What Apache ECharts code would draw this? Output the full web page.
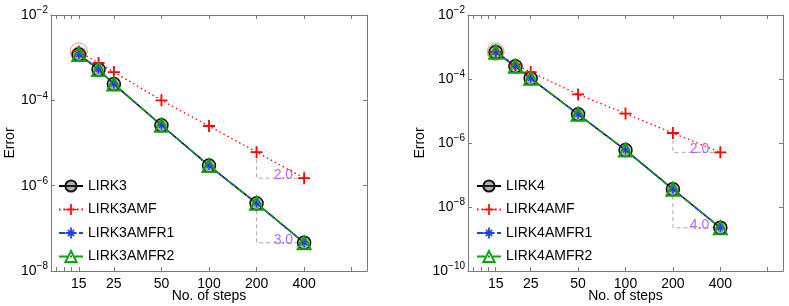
<!DOCTYPE html>
<html>
<head>
<meta charset="utf-8">
<script src="https://cdn.jsdelivr.net/npm/echarts@6/dist/echarts.min.js"></script>
<style>
html,body{margin:0;padding:0;background:#fff;}
#c{width:789px;height:306px;}
</style>
</head>
<body>
<div id="c"></div>
<script>
// ---- data ----
const steps = [15, 20, 25, 50, 100, 200, 400];
const xTickLabels = [15, 25, 50, 100, 200, 400];
const xTickMarks = [10.8, 12.1, 13.5, 15, 25, 50, 100, 200, 400, 800];

const namesL = ['LIRK3', 'LIRK3AMF', 'LIRK3AMFR1', 'LIRK3AMFR2'];
const lirk3      = [1.19e-3, 5.3e-4, 2.4e-4, 2.6e-5, 2.95e-6, 3.85e-7, 4.6e-8];
const lirk3amf   = [1.4e-3, 7.5e-4, 4.6e-4, 1.0e-4, 2.5e-5, 6.1e-6, 1.5e-6];
const lirk3amfr1 = [1.19e-3, 5.3e-4, 2.4e-4, 2.6e-5, 2.95e-6, 3.85e-7, 4.6e-8];
const lirk3amfr2 = [1.19e-3, 5.3e-4, 2.4e-4, 2.6e-5, 2.95e-6, 3.85e-7, 4.6e-8];
const yTicksL = [1e-8, 1e-6, 1e-4, 1e-2];

const namesR = ['LIRK4', 'LIRK4AMF', 'LIRK4AMFR1', 'LIRK4AMFR2'];
const lirk4      = [6.9e-4, 2.5e-4, 1.05e-4, 7.9e-6, 6.0e-7, 3.6e-8, 2.25e-9];
const lirk4amf   = [7.1e-4, 2.8e-4, 1.65e-4, 3.3e-5, 8.3e-6, 2.05e-6, 5.1e-7];
const lirk4amfr1 = [6.9e-4, 2.5e-4, 1.05e-4, 7.9e-6, 6.0e-7, 3.6e-8, 2.25e-9];
const lirk4amfr2 = [6.9e-4, 2.5e-4, 1.05e-4, 7.9e-6, 6.0e-7, 3.6e-8, 2.25e-9];
const yTicksR = [1e-10, 1e-8, 1e-6, 1e-4, 1e-2];

// slope annotations: [series values, label]
const slopesL = [[lirk3amf, '2.0'], [lirk3, '3.0']];
const slopesR = [[lirk4amf, '2.0'], [lirk4, '4.0']];

// ---- styling ----
const FONT = 'Liberation Sans, Arial, Helvetica, sans-serif';
const AX = '#7a7a7a';
const RED = '#ff0000', BLUE = '#1f3cff', GREEN = '#10a010', PURPLE = '#b03cf0', GRAY = '#aaaaaa';
const PLUS = 'path://M-0.9,-6H0.9V-0.9H6V0.9H0.9V6H-0.9V0.9H-6V-0.9H-0.9Z';
const STAR = 'path://M-0.8,-5H0.8V5H-0.8Z M-5,-0.8H5V0.8H-5Z M-2.34,-3.32L3.32,2.34L2.34,3.32L-3.32,-2.34Z M-3.32,2.34L2.34,-3.32L3.32,-2.34L-2.34,3.32Z';

const pair = (ys) => steps.map((s, i) => [s, ys[i]]);

function xAxes(gridIndex) {
  return [
    {
      type: 'log', gridIndex, position: 'bottom', min: 10, max: 1000, logBase: 10,
      name: 'No. of steps', nameLocation: 'middle', nameGap: 18, nameMoveOverlap: false,
      nameTextStyle: { fontFamily: FONT, fontSize: 14, color: '#000' },
      axisLine: { show: true, lineStyle: { color: AX, width: 1 } },
      axisTick: { show: true, inside: true, length: 4, customValues: xTickMarks, lineStyle: { color: AX } },
      axisLabel: { show: true, customValues: xTickLabels, margin: 6, fontFamily: FONT, fontSize: 14, color: '#000',
        formatter: (v) => String(Math.round(v)) },
      splitLine: { show: false }, minorTick: { show: false }
    },
    {
      type: 'log', gridIndex, position: 'top', min: 10, max: 1000, logBase: 10,
      axisLine: { show: true, lineStyle: { color: AX, width: 1 } },
      axisTick: { show: true, inside: true, length: 4, customValues: xTickMarks, lineStyle: { color: AX } },
      axisLabel: { show: false }, splitLine: { show: false }
    }
  ];
}

function yAxes(gridIndex, min, ticks, nameGap) {
  return [
    {
      type: 'log', gridIndex, position: 'left', min, max: 1e-2, logBase: 10,
      name: 'Error', nameLocation: 'middle', nameGap, nameMoveOverlap: false,
      nameTextStyle: { fontFamily: FONT, fontSize: 14, color: '#000' },
      axisLine: { show: true, lineStyle: { color: AX, width: 1 } },
      axisTick: { show: true, inside: true, length: 4, customValues: ticks, lineStyle: { color: AX } },
      axisLabel: {
        show: true, customValues: ticks, margin: 3,
        formatter: (v) => '{b|10}{s|\u2212' + Math.round(-Math.log10(v)) + '}',
        rich: {
          b: { fontFamily: FONT, fontSize: 14, color: '#000' },
          s: { fontFamily: FONT, fontSize: 10, color: '#000', padding: [0, 0, 9, 0] }
        }
      },
      splitLine: { show: false }, minorTick: { show: false }
    },
    {
      type: 'log', gridIndex, position: 'right', min, max: 1e-2, logBase: 10,
      axisLine: { show: true, lineStyle: { color: AX, width: 1 } },
      axisTick: { show: true, inside: true, length: 4, customValues: ticks, lineStyle: { color: AX } },
      axisLabel: { show: false }, splitLine: { show: false }
    }
  ];
}

function panelSeries(names, vals, slopes, xi, yi) {
  const [a, b, c, d] = vals;
  const base = { type: 'line', xAxisIndex: xi, yAxisIndex: yi, showSymbol: true, animation: false };
  const out = [
    Object.assign({}, base, {
      name: names[0], data: pair(a), color: '#000',
      symbol: 'circle', symbolSize: 13,
      lineStyle: { color: '#000', width: 1.5, type: 'solid' },
      itemStyle: { color: 'rgba(60,60,60,0.4)', borderColor: '#111', borderWidth: 1.5 }
    }),
    Object.assign({}, base, {
      name: names[1], data: pair(b), color: RED,
      symbol: PLUS, symbolSize: 12,
      lineStyle: { color: RED, width: 1.3, type: [1.5, 3] },
      itemStyle: { color: RED }
    }),
    Object.assign({}, base, {
      name: names[2], data: pair(c), color: BLUE,
      symbol: STAR, symbolSize: 9,
      lineStyle: { color: BLUE, width: 1.5, type: [6, 4] },
      itemStyle: { color: BLUE }
    }),
    Object.assign({}, base, {
      name: names[3], data: pair(d), color: GREEN,
      symbol: 'triangle', symbolSize: 13,
      lineStyle: { color: GREEN, width: 1.5, type: [8, 3, 2, 3] },
      itemStyle: { color: 'rgba(0,0,0,0)', borderColor: GREEN, borderWidth: 2 }
    }),
    // rings around the first point
    {
      type: 'scatter', xAxisIndex: xi, yAxisIndex: yi, silent: true,
      data: [[steps[0], b[0]]], symbol: 'circle', symbolSize: 17,
      itemStyle: { color: 'rgba(0,0,0,0)', borderColor: 'rgba(255,70,70,0.75)', borderWidth: 1 }
    },
    {
      type: 'scatter', xAxisIndex: xi, yAxisIndex: yi, silent: true,
      data: [[steps[0], d[0]]], symbol: 'circle', symbolSize: 15,
      itemStyle: { color: 'rgba(0,0,0,0)', borderColor: 'rgba(16,160,16,0.7)', borderWidth: 1 }
    }
  ];
  const n = steps.length;
  slopes.forEach(([ys, txt]) => {
    out.push({
      type: 'line', xAxisIndex: xi, yAxisIndex: yi, silent: true, z: 1,
      symbol: 'none',
      data: [[steps[n - 2], ys[n - 2]], [steps[n - 2], ys[n - 1]], [steps[n - 1], ys[n - 1]]],
      lineStyle: { color: GRAY, width: 1, type: [4, 3] }
    });
    out.push({
      type: 'scatter', xAxisIndex: xi, yAxisIndex: yi, silent: true,
      data: [[steps[n - 1], ys[n - 1]]], symbolSize: 0,
      label: { show: true, position: 'left', distance: 11, offset: [0, -3], formatter: txt,
        fontFamily: FONT, fontSize: 14, color: PURPLE }
    });
  });
  return out;
}

const chart = echarts.init(document.getElementById('c'), null, { renderer: 'canvas' });
const legendBase = {
  orient: 'vertical', padding: 0, itemWidth: 24, itemHeight: 14, itemGap: 9.5,
  backgroundColor: '#fff', selectedMode: false,
  textStyle: { fontFamily: FONT, fontSize: 14, color: '#000' }
};
chart.setOption({
  animation: false,
  backgroundColor: '#fff',
  grid: [
    { left: 51, top: 15, width: 316, height: 256, outerBoundsMode: 'none', containLabel: false },
    { left: 468, top: 15, width: 315, height: 256, outerBoundsMode: 'none', containLabel: false }
  ],
  xAxis: [...xAxes(0), ...xAxes(1)],
  yAxis: [...yAxes(0, 1e-8, yTicksL, 34), ...yAxes(1, 1e-10, yTicksR, 41)],
  legend: [
    Object.assign({}, legendBase, { data: namesL, left: 58, top: 179 }),
    Object.assign({}, legendBase, { data: namesR, left: 476, top: 179 })
  ],
  series: [
    ...panelSeries(namesL, [lirk3, lirk3amf, lirk3amfr1, lirk3amfr2], slopesL, 0, 0),
    ...panelSeries(namesR, [lirk4, lirk4amf, lirk4amfr1, lirk4amfr2], slopesR, 2, 2)
  ]
});
</script>
</body>
</html>
